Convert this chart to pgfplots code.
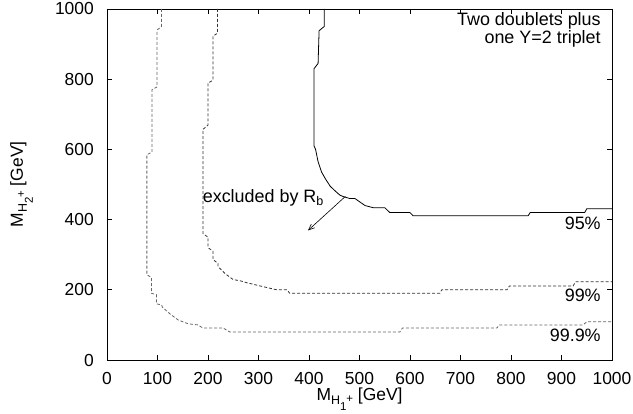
\documentclass[border=0pt]{standalone}
\usepackage{fontspec}
\setmainfont{Liberation Sans}
\usepackage{pgfplots}
\pgfplotsset{compat=1.18}
\usetikzlibrary{arrows.meta}
\newcommand{\Msub}[1]{M\raisebox{-4bp}{\fontsize{12.5}{12.5}\selectfont H}\raisebox{-10bp}{\fontsize{11.5}{11.5}\selectfont #1}\raisebox{-2bp}{\fontsize{11.5}{11.5}\selectfont +}}
\begin{document}
\begin{tikzpicture}
\begin{axis}[
  width=505bp, height=351bp, scale only axis,
  xmin=0, xmax=1000, ymin=0, ymax=1000,
  xtick={0,100,...,1000}, ytick={0,200,...,1000},
  tick align=inside, major tick length=5bp,
  axis line style={line width=0.9pt},
  every tick/.style={black, line width=0.8pt},
  /pgf/number format/assume math mode=true,
  /pgf/number format/1000 sep={},
  tick label style={font=\fontsize{17.5}{19}\selectfont},
  xticklabel style={inner sep=0pt, anchor=north, yshift=-12.5bp},
  yticklabel style={inner sep=0pt, anchor=east, xshift=-13bp},
  xlabel={\Msub{1} [GeV]},
  ylabel={\Msub{2} [GeV]},
  label style={font=\fontsize{17.5}{19}\selectfont},
  xlabel style={inner sep=0pt, at={(axis description cs:0.5,-0.0785)}, anchor=north},
  ylabel style={inner sep=0pt, at={(axis description cs:-0.1465,0.5)}, anchor=south},
  clip=true,
]
% 95% (solid)
\addplot[black, line width=0.8pt] coordinates {
(430,1000)(430,950)(420,938)(418,845)(410,830)(410,610)(413,600)(418,565)(425,535)(433,515)(442,495)(453,480)(461,470)(467,466)(481,460)(491,460)(511,440)(527,434)(550,434)(560,420)(600,420)(606,411)(834,411)(838,420)(946,420)(950,431)(1000,431)
};
% 99% (dashed, dark)
\addplot[black!80, line width=0.8pt, dash pattern=on 3bp off 2bp] coordinates {
(219,1000)(219,931)(210,923)(210,797)(200,789)(200,669)(190,657)(190,360)(200,350)(200,320)(210,310)(210,286)(220,275)(220,266)(234,246)(250,229)(263,226)(277,220)(309,209)(336,200)(356,200)(362,190)(659,190)(663,200)(792,200)(797,211)(923,211)(928,223)(1000,223)
};
% 99.9% (dashed, lighter)
\addplot[black!60, line width=0.8pt, dash pattern=on 3bp off 2bp] coordinates {
(108,1000)(108,950)(99,940)(99,778)(89,770)(89,592)(79,585)(79,243)(88,235)(88,190)(98,186)(98,160)(108,157)(110,150)(125,131)(141,114)(161,103)(180,100)(190,91)(230,91)(243,80)(580,80)(585,91)(772,91)(777,100)(943,100)(950,109)(1000,109)
};
\draw[-{Straight Barb[length=6bp,width=5bp]}, line width=0.6pt] (axis cs:472,466) -- (axis cs:398,369);
\node[anchor=base east, inner sep=0pt, font=\fontsize{18}{19}\selectfont] at (axis cs:430,449) {excluded by R\textsubscript{b}};
\node[anchor=base east, inner sep=0pt, font=\fontsize{18}{19}\selectfont] at (axis cs:978,952) {Two doublets plus};
\node[anchor=base east, inner sep=0pt, font=\fontsize{18}{19}\selectfont] at (axis cs:978,903) {one Y=2 triplet};
\node[anchor=base east, inner sep=0pt, font=\fontsize{18}{19}\selectfont] at (axis cs:978,371) {95\%};
\node[anchor=base east, inner sep=0pt, font=\fontsize{18}{19}\selectfont] at (axis cs:978,166) {99\%};
\node[anchor=base east, inner sep=0pt, font=\fontsize{18}{19}\selectfont] at (axis cs:978,54) {99.9\%};
\end{axis}
\pgfresetboundingbox
\path ([shift={(-107bp,-54bp)}]current axis.south west) rectangle ([shift={(21bp,9bp)}]current axis.north east);
\end{tikzpicture}
\end{document}
